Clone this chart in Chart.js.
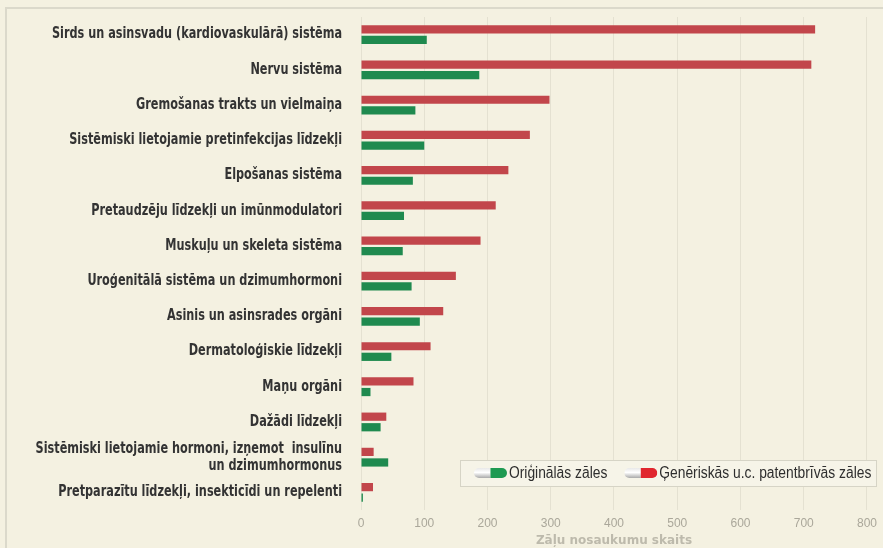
<!DOCTYPE html>
<html>
<head>
<meta charset="utf-8">
<script src="https://cdn.jsdelivr.net/npm/chart.js@4.4.1/dist/chart.umd.min.js"></script>
<style>
  html, body { margin: 0; padding: 0; background: #f4f1e1; }
  #wrap { width: 883px; height: 548px; }
</style>
</head>
<body>
<div id="wrap"><canvas id="zalesChart" width="883" height="548"></canvas></div>
<script>
const kategorijas = [
  "Sirds un asinsvadu (kardiovaskulārā) sistēma",
  "Nervu sistēma",
  "Gremošanas trakts un vielmaiņa",
  "Sistēmiski lietojamie pretinfekcijas līdzekļi",
  "Elpošanas sistēma",
  "Pretaudzēju līdzekļi un imūnmodulatori",
  "Muskuļu un skeleta sistēma",
  "Uroģenitālā sistēma un dzimumhormoni",
  "Asinis un asinsrades orgāni",
  "Dermatoloģiskie līdzekļi",
  "Maņu orgāni",
  "Dažādi līdzekļi",
  ["Sistēmiski lietojamie hormoni, izņemot  insulīnu", "un dzimumhormonus"],
  "Pretparazītu līdzekļi, insekticīdi un repelenti"
];
const generiskas = [718, 712, 298, 267, 233, 213, 189, 150, 130, 110, 83, 40, 20, 19];
const originalas = [104, 187, 86, 100, 82, 68, 66, 80, 93, 48, 15, 31, 43, 3];
const asisTicks = [0, 100, 200, 300, 400, 500, 600, 700, 800];

const sarkans = "#c2464b";
const zals = "#1f8a4f";

// kapsulas ikona legendai
function kapsula(ctx, x, y, w, h, krasa) {
  ctx.save();
  ctx.beginPath();
  ctx.roundRect(x, y, w, h, h / 2);
  ctx.clip();
  let g1 = ctx.createLinearGradient(0, y, 0, y + h);
  g1.addColorStop(0, "#e8e8e8");
  g1.addColorStop(0.45, "#ffffff");
  g1.addColorStop(1, "#a9a9a9");
  ctx.fillStyle = g1;
  ctx.fillRect(x, y, w / 2, h);
  ctx.fillStyle = krasa;
  ctx.fillRect(x + w / 2, y, w / 2, h);
  ctx.restore();
}

const fonsPlugin = {
  id: "fons",
  beforeDraw(chart) {
    const c = chart.ctx;
    c.save();
    c.fillStyle = "#f4f1e1";
    c.fillRect(0, 0, chart.width, chart.height);
    c.strokeStyle = "#dbd9cb";
    c.lineWidth = 2;
    c.beginPath();
    c.moveTo(6, chart.height + 5);
    c.lineTo(6, 8);
    c.lineTo(chart.width + 5, 8);
    c.stroke();
    c.restore();
  }
};

// kategoriju nosaukumi (šaurāks burtu zīmējums)
const nosaukumiPlugin = {
  id: "nosaukumi",
  afterDraw(chart) {
    const c = chart.ctx;
    const ys = chart.scales.y;
    const xr = chart.chartArea.left - 19;
    c.save();
    c.font = "bold 15px 'DejaVu Sans Condensed', 'DejaVu Sans', sans-serif";
    c.fillStyle = "#333333";
    c.textAlign = "right";
    c.textBaseline = "middle";
    const f = 290 / c.measureText(kategorijas[0]).width;
    chart.data.labels.forEach((lab, i) => {
      const rindas = Array.isArray(lab) ? lab : [lab];
      const y0 = ys.getPixelForValue(i) - (rindas.length - 1) * 8.5;
      rindas.forEach((r, j) => {
        c.save();
        c.translate(xr, y0 + j * 17);
        c.scale(f, 1);
        c.fillText(r, 0, 0);
        c.restore();
      });
    });
    c.restore();
  }
};

const legendaPlugin = {
  id: "legenda",
  afterDraw(chart) {
    const c = chart.ctx;
    const a = chart.chartArea;
    const x = a.right - 407, y = a.bottom - 50, w = 416, h = 26;
    c.save();
    c.fillStyle = "#f6f4e8";
    c.fillRect(x, y, w, h);
    c.strokeStyle = "#d6d4c6";
    c.lineWidth = 1;
    c.strokeRect(x + 0.5, y + 0.5, w, h);
    c.font = "16px 'Liberation Sans', Arial, sans-serif";
    c.fillStyle = "#2e2e2e";
    c.textBaseline = "middle";
    const items = [chart.data.datasets[1], chart.data.datasets[0]];
    const f = 212 / c.measureText(items[1].label).width;
    const pilsKrasas = ["#1e9a52", "#e0262e"];
    let px = x + 14;
    items.forEach((ds, k) => {
      kapsula(c, px, y + h / 2 - 5, 33, 10, pilsKrasas[k]);
      px += 35;
      c.save();
      c.translate(px, y + h / 2 + 1);
      c.scale(f, 1);
      c.fillText(ds.label, 0, 0);
      c.restore();
      px += c.measureText(ds.label).width * f + 17;
    });
    c.restore();
  }
};

new Chart(document.getElementById("zalesChart"), {
  type: "bar",
  data: {
    labels: kategorijas,
    datasets: [
      {
        label: "Ģenēriskās u.c. patentbrīvās zāles",
        data: generiskas,
        backgroundColor: sarkans,
        categoryPercentage: 0.6,
        barPercentage: 0.78
      },
      {
        label: "Oriģinālās zāles",
        data: originalas,
        backgroundColor: zals,
        categoryPercentage: 0.6,
        barPercentage: 0.78
      }
    ]
  },
  options: {
    indexAxis: "y",
    responsive: false,
    animation: false,
    layout: { padding: { top: 17, right: 15, left: 0, bottom: 0 } },
    plugins: {
      legend: { display: false },
      tooltip: { enabled: false }
    },
    scales: {
      x: {
        min: 0,
        max: 800,
        afterBuildTicks(scale) {
          scale.ticks = asisTicks.map(v => ({ value: v }));
        },
        afterFit(scale) { scale.height = 38; },
        grid: { color: "#e4e1d1", drawTicks: false },
        border: { display: false },
        ticks: {
          color: "#aaa79a",
          padding: 6,
          font: { family: "'Liberation Sans', Arial, sans-serif", size: 12 }
        },
        title: {
          display: true,
          text: "Zāļu nosaukumu skaits",
          color: "#bdbaac",
          padding: { top: 0, bottom: 0 },
          font: { family: "'DejaVu Sans', sans-serif", size: 12, weight: "bold" }
        }
      },
      y: {
        afterFit(scale) { scale.width = 361; },
        grid: { display: false, drawTicks: false },
        border: { display: false },
        ticks: { display: false }
      }
    }
  },
  plugins: [fonsPlugin, nosaukumiPlugin, legendaPlugin]
});
</script>
</body>
</html>
